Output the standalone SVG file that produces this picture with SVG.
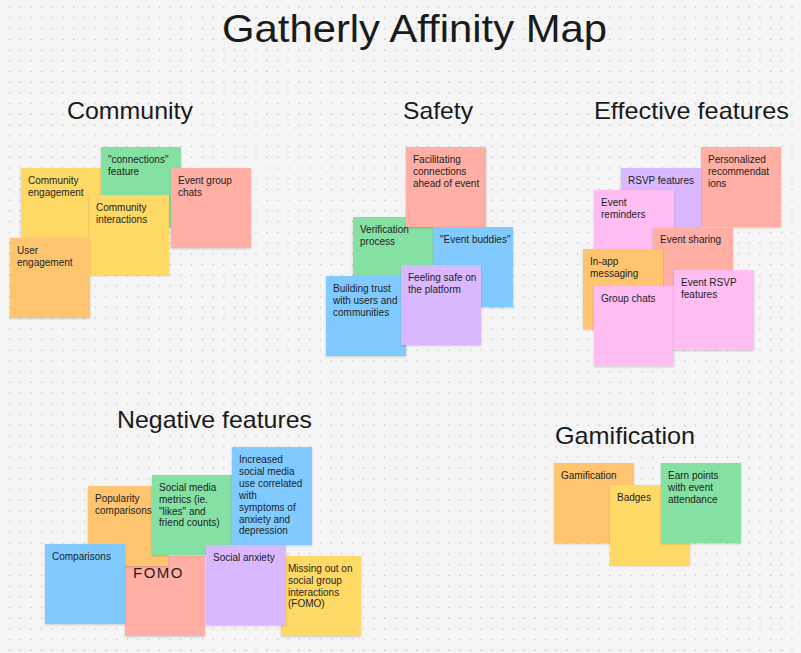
<svg xmlns="http://www.w3.org/2000/svg" width="801" height="653" viewBox="0 0 801 653">
<defs>
<pattern id="dots" patternUnits="userSpaceOnUse" x="0" y="0" width="10.72" height="10.72">
<circle cx="9.5" cy="7.2" r="0.75" fill="#c2c2c2"/>
</pattern>
<filter id="sh" x="-10%" y="-10%" width="120%" height="125%">
<feDropShadow dx="0" dy="1" stdDeviation="0.8" flood-color="#000" flood-opacity="0.18"/>
</filter>
</defs>
<style>
.yellow{fill:#FFD966}
.orange{fill:#FFC470}
.green{fill:#85E0A3}
.red{fill:#FFAFA3}
.blue{fill:#80CAFF}
.violet{fill:#D9B8FF}
.pink{fill:#FFBDF2}
.note rect{filter:url(#sh)}
.t{font-family:"Liberation Sans",Arial,sans-serif;font-size:10px;fill:#1e1e1e}
.big{font-size:15px;letter-spacing:1.5px}
.h{font-family:"Liberation Sans",Arial,sans-serif;fill:#1a1a1a}
</style>
<rect width="801" height="653" fill="#f5f5f5"/>
<rect width="801" height="653" fill="url(#dots)"/>

<g id="title"><text class="h" x="222" y="42" font-size="39" textLength="385" lengthAdjust="spacingAndGlyphs">Gatherly Affinity Map</text></g>
<g id="heading-community"><text class="h" x="67" y="119" font-size="24" textLength="126" lengthAdjust="spacingAndGlyphs">Community</text></g>
<g id="heading-safety"><text class="h" x="403" y="119" font-size="24" textLength="70" lengthAdjust="spacingAndGlyphs">Safety</text></g>
<g id="heading-effective"><text class="h" x="594" y="119" font-size="24" textLength="195" lengthAdjust="spacingAndGlyphs">Effective features</text></g>
<g id="heading-negative"><text class="h" x="117" y="428" font-size="24" textLength="195" lengthAdjust="spacingAndGlyphs">Negative features</text></g>
<g id="heading-gamification"><text class="h" x="555" y="444" font-size="24" textLength="140" lengthAdjust="spacingAndGlyphs">Gamification</text></g>

<g id="connectors"></g>

<!-- Community -->
<g id="c-engagement" class="note"><rect class="yellow" x="21" y="168" width="80" height="80"/><text class="t" x="28" y="184">Community<tspan x="28" dy="11.8">engagement</tspan></text></g>
<g id="c-connections" class="note"><rect class="green" x="101" y="147" width="80" height="80"/><text class="t" x="108" y="163">"connections"<tspan x="108" dy="11.8">feature</tspan></text></g>
<g id="c-interactions" class="note"><rect class="yellow" x="89" y="195" width="80" height="80"/><text class="t" x="96" y="211">Community<tspan x="96" dy="11.8">interactions</tspan></text></g>
<g id="c-eventchats" class="note"><rect class="red" x="171" y="168" width="80" height="80"/><text class="t" x="178" y="184">Event group<tspan x="178" dy="11.8">chats</tspan></text></g>
<g id="c-user" class="note"><rect class="orange" x="10" y="238" width="80" height="80"/><text class="t" x="17" y="254">User<tspan x="17" dy="11.8">engagement</tspan></text></g>

<!-- Safety -->
<g id="s-verification" class="note"><rect class="green" x="353" y="217" width="80" height="80"/><text class="t" x="360" y="233">Verification<tspan x="360" dy="11.8">process</tspan></text></g>
<g id="s-facilitating" class="note"><rect class="red" x="406" y="147" width="80" height="80"/><text class="t" x="413" y="163">Facilitating<tspan x="413" dy="11.8">connections</tspan><tspan x="413" dy="11.8">ahead of event</tspan></text></g>
<g id="s-buddies" class="note"><rect class="blue" x="433" y="227" width="80" height="80"/><text class="t" x="440" y="243">"Event buddies"</text></g>
<g id="s-trust" class="note"><rect class="blue" x="326" y="276" width="80" height="80"/><text class="t" x="333" y="292">Building trust<tspan x="333" dy="11.8">with users and</tspan><tspan x="333" dy="11.8">communities</tspan></text></g>
<g id="s-feeling" class="note"><rect class="violet" x="401" y="265" width="80" height="80"/><text class="t" x="408" y="281">Feeling safe on<tspan x="408" dy="11.8">the platform</tspan></text></g>

<!-- Effective features -->
<g id="e-personalized" class="note"><rect class="red" x="701" y="147" width="80" height="80"/><text class="t" x="708" y="163">Personalized<tspan x="708" dy="11.8">recommendat</tspan><tspan x="708" dy="11.8">ions</tspan></text></g>
<g id="e-rsvp" class="note"><rect class="violet" x="621" y="168" width="80" height="80"/><text class="t" x="628" y="184">RSVP features</text></g>
<g id="e-reminders" class="note"><rect class="pink" x="594" y="190" width="80" height="80"/><text class="t" x="601" y="206">Event<tspan x="601" dy="11.8">reminders</tspan></text></g>
<g id="e-sharing" class="note"><rect class="red" x="653" y="228" width="80" height="80"/><text class="t" x="660" y="243">Event sharing</text></g>
<g id="e-inapp" class="note"><rect class="orange" x="583" y="249" width="80" height="80"/><text class="t" x="590" y="265">In-app<tspan x="590" dy="11.8">messaging</tspan></text></g>
<g id="e-groupchats" class="note"><rect class="pink" x="594" y="286" width="80" height="80"/><text class="t" x="601" y="302">Group chats</text></g>
<g id="e-eventrsvp" class="note"><rect class="pink" x="674" y="270" width="80" height="80"/><text class="t" x="681" y="286">Event RSVP<tspan x="681" dy="11.8">features</tspan></text></g>

<!-- Negative features -->
<g id="n-fomo" class="note"><rect class="red" x="125" y="556" width="80" height="80"/><text class="t big" x="133" y="578">FOMO</text></g>
<g id="n-popularity" class="note"><rect class="orange" x="88" y="486" width="80" height="80"/><text class="t" x="95" y="502">Popularity<tspan x="95" dy="11.8">comparisons</tspan></text></g>
<g id="n-comparisons" class="note"><rect class="blue" x="45" y="544" width="80" height="80"/><text class="t" x="52" y="560">Comparisons</text></g>
<g id="n-metrics" class="note"><rect class="green" x="152" y="475" width="80" height="80"/><text class="t" x="159" y="491">Social media<tspan x="159" dy="11.8">metrics (ie.</tspan><tspan x="159" dy="11.8">"likes" and</tspan><tspan x="159" dy="11.8">friend counts)</tspan></text></g>
<g id="n-increased" class="note"><rect class="blue" x="232" y="447" width="80" height="98"/><text class="t" x="239" y="463">Increased<tspan x="239" dy="11.9">social media</tspan><tspan x="239" dy="11.9">use correlated</tspan><tspan x="239" dy="11.9">with</tspan><tspan x="239" dy="11.9">symptoms of</tspan><tspan x="239" dy="11.9">anxiety and</tspan><tspan x="239" dy="11.9">depression</tspan></text></g>
<g id="n-missing" class="note"><rect class="yellow" x="281" y="556" width="80" height="80"/><text class="t" x="288" y="572">Missing out on<tspan x="288" dy="11.8">social group</tspan><tspan x="288" dy="11.8">interactions</tspan><tspan x="288" dy="11.8">(FOMO)</tspan></text></g>
<g id="n-anxiety" class="note"><rect class="violet" x="206" y="545" width="80" height="80"/><text class="t" x="213" y="561">Social anxiety</text></g>

<!-- Gamification -->
<g id="g-gamification" class="note"><rect class="orange" x="554" y="463" width="80" height="80"/><text class="t" x="561" y="479">Gamification</text></g>
<g id="g-badges" class="note"><rect class="yellow" x="610" y="485" width="80" height="80"/><text class="t" x="617" y="501">Badges</text></g>
<g id="g-earn" class="note"><rect class="green" x="661" y="463" width="80" height="80"/><text class="t" x="668" y="479">Earn points<tspan x="668" dy="11.8">with event</tspan><tspan x="668" dy="11.8">attendance</tspan></text></g>
</svg>
